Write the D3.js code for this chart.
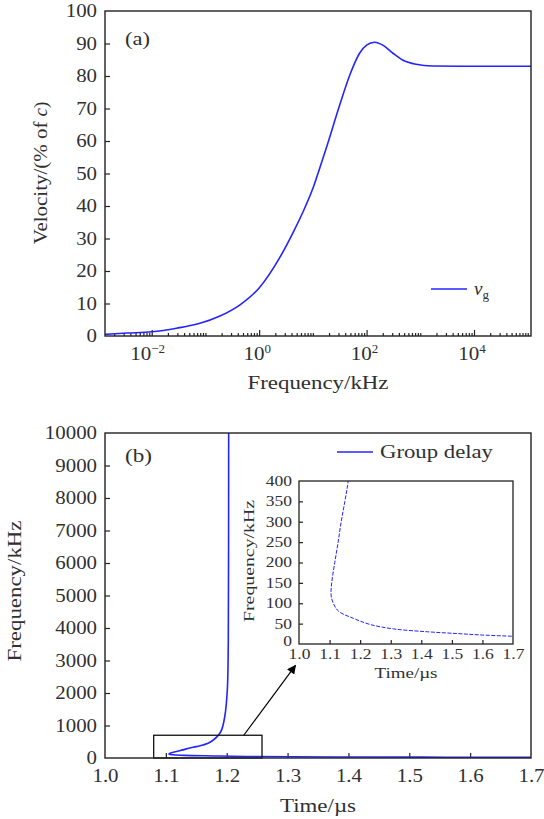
<!DOCTYPE html>
<html>
<head>
<meta charset="utf-8">
<script src="https://cdn.jsdelivr.net/npm/d3@7"></script>
<style>
  html, body { margin: 0; padding: 0; background: #fff; }
  svg { display: block; }
  text { font-family: "Liberation Serif", "DejaVu Serif", serif; fill: #303030; }
</style>
</head>
<body>
<svg id="chart" width="544" height="819"></svg>
<script>
// ---------- DATA ----------
// (a) group velocity vs frequency (kHz, log axis)
const velFreq  = [0.00135, 0.0035, 0.01, 0.029, 0.079, 0.186, 0.44, 1.0, 2.43, 4.3, 6.6, 10.1, 13.5, 17.9, 31.8, 48.7, 74, 100, 141, 200, 309, 468, 832, 1700, 10000, 115000];
const velValue = [0.5,     0.9,    1.3,  2.4,   3.9,   6.15,  9.6,  14.8, 24.2, 31.9, 38.3, 45.6, 51.8, 58.0, 71.2, 80.3, 87, 89.5, 90.4, 89.5, 87, 84.9, 83.6, 83.1, 83.0, 83.0];
const velYTicks = [0, 10, 20, 30, 40, 50, 60, 70, 80, 90, 100];
const velXMajorExp = [-2, 0, 2, 4];

// (b) group delay: time (µs) vs frequency (kHz)
const gdFreq = [10000, 6000, 3600, 2100, 1300, 800, 500, 400, 350, 300, 250, 200, 150, 120, 100, 80, 63, 48, 37, 30, 25.5, 22, 19];
const gdTime = [1.2032, 1.2030, 1.2026, 1.2010, 1.197, 1.190, 1.174, 1.161, 1.150, 1.138, 1.128, 1.117, 1.107, 1.105, 1.112, 1.13, 1.178, 1.232, 1.31, 1.42, 1.52, 1.6, 1.7];
const gdXTicks = [1.0, 1.1, 1.2, 1.3, 1.4, 1.5, 1.6, 1.7];
const gdYTicks = [0, 1000, 2000, 3000, 4000, 5000, 6000, 7000, 8000, 9000, 10000];
const insetXTicks = [1.0, 1.1, 1.2, 1.3, 1.4, 1.5, 1.6, 1.7];
const insetYTicks = [0, 50, 100, 150, 200, 250, 300, 350, 400];
const zoomBox = { t0: 1.08, t1: 1.258, f0: 0, f1: 700 };
const arrowPts = { t0: 1.228, f0: 700, t1: 1.313, f1: 2850 };

// ---------- SETUP ----------
const svg = d3.select("#chart");
const BLUE = "#2424ff";
const AX = "#222";
const TXT = "#303030";

const defs = svg.append("defs");
defs.append("marker").attr("id", "arrow").attr("viewBox", "0 0 10 10")
  .attr("refX", 9).attr("refY", 5).attr("markerWidth", 13).attr("markerHeight", 9)
  .attr("markerUnits", "userSpaceOnUse").attr("orient", "auto")
  .append("path").attr("d", "M0,0 L10,5 L0,10 Z").attr("fill", "#000");

function clip(id, x0, y0, w, h) {
  defs.append("clipPath").attr("id", id).append("rect")
    .attr("x", x0).attr("y", y0).attr("width", w).attr("height", h);
}
// widen glyphs horizontally to mimic the wide Computer-Modern look
function stretch(sel, f) {
  sel.each(function () {
    const l = this.getComputedTextLength();
    this.setAttribute("textLength", (l * f).toFixed(2));
    this.setAttribute("lengthAdjust", "spacingAndGlyphs");
  });
  return sel;
}
function fitLen(sel, len) {
  sel.attr("textLength", len).attr("lengthAdjust", "spacingAndGlyphs");
  return sel;
}

function styleAxis(g, fs, f) {
  g.select(".domain").remove();
  g.selectAll(".tick line").attr("stroke", AX).attr("stroke-width", 1.2);
  const t = g.selectAll(".tick text").attr("font-size", fs).attr("font-family", "Liberation Serif").attr("fill", TXT);
  if (f) stretch(t, f);
}

// ---------- (a) ----------
{
  const x0 = 105, x1 = 531, y0 = 11, y1 = 336;
  const x = d3.scaleLog().domain([0.00135, 115000]).range([x0, x1]);
  const y = d3.scaleLinear().domain([0, 100]).range([y1, y0]);
  clip("clipA", x0, y0, x1 - x0, y1 - y0);

  // minor ticks
  const minor = [];
  for (let e = -3; e <= 5; e++) for (let k = 1; k <= 9; k++) {
    const v = k * Math.pow(10, e);
    if (v > x.domain()[0] && v < x.domain()[1] && !(k === 1 && velXMajorExp.includes(e))) minor.push(v);
  }
  const gMin = svg.append("g").attr("transform", `translate(0,${y1})`)
    .call(d3.axisBottom(x).tickValues(minor).tickSizeInner(-3).tickSizeOuter(0).tickFormat(""));
  styleAxis(gMin, 18);
  const gMaj = svg.append("g").attr("transform", `translate(0,${y1})`)
    .call(d3.axisBottom(x).tickValues(velXMajorExp.map(e => Math.pow(10, e))).tickSizeInner(-6).tickSizeOuter(0).tickFormat(""));
  styleAxis(gMaj, 18);
  // major labels with superscripts
  velXMajorExp.forEach(e => {
    const xc = x(Math.pow(10, e));
    const t = svg.append("text").attr("x", xc + (e < 0 ? -4 : -2)).attr("y", 360)
      .attr("text-anchor", "middle").attr("font-size", 18);
    t.append("tspan").attr("textLength", 21).attr("lengthAdjust", "spacingAndGlyphs").text("10");
    t.append("tspan").attr("dy", -7).attr("font-size", 13).text(e < 0 ? "\u2212" + (-e) : String(e));
  });

  const gy = svg.append("g").attr("transform", `translate(${x0},0)`)
    .call(d3.axisLeft(y).tickValues(velYTicks).tickSizeInner(-5).tickSizeOuter(0).tickPadding(8));
  styleAxis(gy, 18, 1.16);
  gy.selectAll(".tick line").filter(d => d === 0 || d === 100).remove();

  const line = d3.line().x((d, i) => x(velFreq[i])).y((d, i) => y(velValue[i])).curve(d3.curveMonotoneX);
  svg.append("path").datum(velValue).attr("d", line).attr("fill", "none")
    .attr("stroke", BLUE).attr("stroke-width", 1.6).attr("clip-path", "url(#clipA)");

  svg.append("rect").attr("x", x0).attr("y", y0).attr("width", x1 - x0).attr("height", y1 - y0)
    .attr("fill", "none").attr("stroke", AX).attr("stroke-width", 1.4);

  fitLen(svg.append("text").attr("x", 125).attr("y", 45).attr("font-size", 18).text("(a)"), 25);

  // legend
  svg.append("line").attr("x1", 431).attr("x2", 467).attr("y1", 289).attr("y2", 289)
    .attr("stroke", BLUE).attr("stroke-width", 1.6);
  const lt = svg.append("text").attr("x", 474).attr("y", 295).attr("font-size", 19);
  lt.append("tspan").attr("font-style", "italic").text("v");
  lt.append("tspan").attr("dy", 4).attr("font-size", 13).text("g");

  fitLen(svg.append("text").attr("x", (x0 + x1) / 2).attr("y", 389).attr("text-anchor", "middle")
    .attr("font-size", 19).text("Frequency/kHz"), 141);
  const yl = svg.append("text").attr("transform", "translate(47,173) rotate(-90)")
    .attr("text-anchor", "middle").attr("font-size", 19);
  yl.append("tspan").attr("textLength", 128).attr("lengthAdjust", "spacingAndGlyphs").text("Velocity/(% of  ");
  yl.append("tspan").attr("font-style", "italic").text("c");
  yl.append("tspan").text(")");
}

// ---------- (b) ----------
{
  const x0 = 105, x1 = 531, y0 = 433, y1 = 758;
  const x = d3.scaleLinear().domain([1.0, 1.7]).range([x0, x1]);
  const y = d3.scaleLinear().domain([0, 10000]).range([y1, y0]);
  clip("clipB", x0, y0, x1 - x0, y1 - y0);

  const gx = svg.append("g").attr("transform", `translate(0,${y1})`)
    .call(d3.axisBottom(x).tickValues(gdXTicks).tickSizeInner(-5).tickSizeOuter(0).tickPadding(11).tickFormat(d3.format(".1f")));
  styleAxis(gx, 18, 1.16);
  gx.selectAll(".tick line").filter(d => d === 1.0 || d === 1.7).remove();
  const gy = svg.append("g").attr("transform", `translate(${x0},0)`)
    .call(d3.axisLeft(y).tickValues(gdYTicks).tickSizeInner(-5).tickSizeOuter(0).tickPadding(8).tickFormat(d3.format("d")));
  styleAxis(gy, 18, 1.16);
  gy.selectAll(".tick line").filter(d => d === 0 || d === 10000).remove();

  const line = d3.line().x((d, i) => x(gdTime[i])).y((d, i) => y(gdFreq[i])).curve(d3.curveCatmullRom.alpha(0.5));
  svg.append("path").datum(gdFreq).attr("d", line).attr("fill", "none")
    .attr("stroke", BLUE).attr("stroke-width", 1.6).attr("clip-path", "url(#clipB)");

  // zoom box + arrow
  svg.append("rect").attr("x", x(zoomBox.t0)).attr("y", y(zoomBox.f1))
    .attr("width", x(zoomBox.t1) - x(zoomBox.t0)).attr("height", y(zoomBox.f0) - y(zoomBox.f1))
    .attr("fill", "none").attr("stroke", "#111").attr("stroke-width", 1.3);
  svg.append("line").attr("x1", x(arrowPts.t0)).attr("y1", y(arrowPts.f0))
    .attr("x2", x(arrowPts.t1)).attr("y2", y(arrowPts.f1))
    .attr("stroke", "#000").attr("stroke-width", 1.2).attr("marker-end", "url(#arrow)");

  svg.append("rect").attr("x", x0).attr("y", y0).attr("width", x1 - x0).attr("height", y1 - y0)
    .attr("fill", "none").attr("stroke", AX).attr("stroke-width", 1.4);

  fitLen(svg.append("text").attr("x", 125).attr("y", 462).attr("font-size", 18).text("(b)"), 27);

  // legend
  svg.append("line").attr("x1", 337).attr("x2", 373).attr("y1", 452).attr("y2", 452)
    .attr("stroke", BLUE).attr("stroke-width", 1.4);
  fitLen(svg.append("text").attr("x", 380).attr("y", 458).attr("font-size", 19).text("Group delay"), 113);

  fitLen(svg.append("text").attr("x", (x0 + x1) / 2).attr("y", 812).attr("text-anchor", "middle")
    .attr("font-size", 19).text("Time/\u00b5s"), 76);
  fitLen(svg.append("text").attr("transform", "translate(21,591) rotate(-90)")
    .attr("text-anchor", "middle").attr("font-size", 19).text("Frequency/kHz"), 141);

  // ---------- inset ----------
  const ix0 = 299, ix1 = 513, iy0 = 481, iy1 = 644;
  const ix = d3.scaleLinear().domain([1.0, 1.7]).range([ix0, ix1]);
  const iy = d3.scaleLinear().domain([0, 400]).range([iy1, iy0]);
  clip("clipI", ix0, iy0, ix1 - ix0, iy1 - iy0);
  svg.append("rect").attr("x", ix0).attr("y", iy0).attr("width", ix1 - ix0).attr("height", iy1 - iy0).attr("fill", "#fff");

  const igx = svg.append("g").attr("transform", `translate(0,${iy1})`)
    .call(d3.axisBottom(ix).tickValues(insetXTicks).tickSizeInner(-4).tickSizeOuter(0).tickPadding(5).tickFormat(d3.format(".1f")));
  styleAxis(igx, 14, 1.25);
  igx.selectAll(".tick line").filter(d => d === 1.0 || d === 1.7).remove();
  const igy = svg.append("g").attr("transform", `translate(${ix0},0)`)
    .call(d3.axisLeft(iy).tickValues(insetYTicks).tickSizeInner(-4).tickSizeOuter(0).tickPadding(7).tickFormat(d3.format("d")));
  styleAxis(igy, 14, 1.25);
  igy.selectAll(".tick line").filter(d => d === 0 || d === 400).remove();
  igy.selectAll(".tick text").filter(d => d === 0).attr("dy", "0.1em");

  const iline = d3.line().x((d, i) => ix(gdTime[i])).y((d, i) => iy(gdFreq[i])).curve(d3.curveCatmullRom.alpha(0.5));
  svg.append("path").datum(gdFreq).attr("d", iline).attr("fill", "none")
    .attr("stroke", BLUE).attr("stroke-width", 1).attr("stroke-dasharray", "4,1.5")
    .attr("clip-path", "url(#clipI)");

  svg.append("rect").attr("x", ix0).attr("y", iy0).attr("width", ix1 - ix0).attr("height", iy1 - iy0)
    .attr("fill", "none").attr("stroke", AX).attr("stroke-width", 1.3);

  fitLen(svg.append("text").attr("x", (ix0 + ix1) / 2).attr("y", 678).attr("text-anchor", "middle")
    .attr("font-size", 15).text("Time/\u00b5s"), 63);
  fitLen(svg.append("text").attr("transform", "translate(254,561) rotate(-90)")
    .attr("text-anchor", "middle").attr("font-size", 15).text("Frequency/kHz"), 122);
}
</script>
</body>
</html>
